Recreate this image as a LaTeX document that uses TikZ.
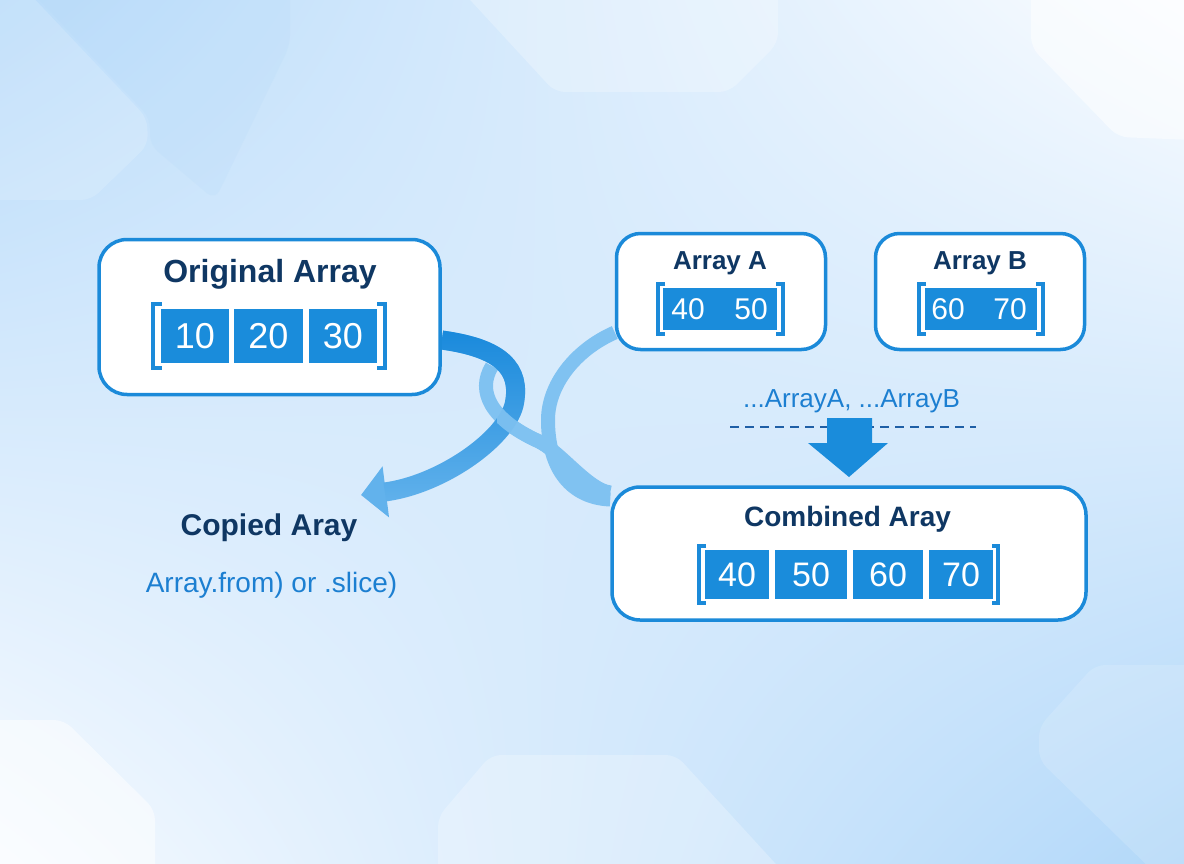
\documentclass[tikz,border=0pt]{standalone}
\usepackage{fontspec}
\setmainfont{Liberation Sans}
\usetikzlibrary{arrows.meta,fadings,shadings}
\definecolor{boxblue}{RGB}{27,138,217}
\definecolor{cellblue}{RGB}{26,140,219}
\definecolor{navy}{RGB}{15,55,99}
\definecolor{txtblue}{RGB}{28,127,209}
\definecolor{dashblue}{RGB}{31,95,166}
\definecolor{ribdark}{RGB}{26,138,220}
\definecolor{riblight}{RGB}{98,178,236}
\definecolor{ribpale}{RGB}{128,194,241}
\definecolor{bgTL}{RGB}{186,220,250}
\definecolor{bgTR}{RGB}{250,252,255}
\definecolor{bgBL}{RGB}{246,250,255}
\definecolor{bgBR}{RGB}{178,216,249}
\tikzfading[name=myfade, top color=transparent!0, middle color=transparent!50, bottom color=transparent!100]
\pgfdeclarelayer{bg}
\pgfsetlayers{bg,main}
\begin{document}
\begin{tikzpicture}[x=1pt,y=-1pt,
  panel/.style={draw=boxblue, line width=3.5pt, fill=white, rounded corners=28pt, inner sep=0pt},
  cell/.style={fill=cellblue, text=white, inner sep=0pt},
  num/.style={text=white, inner sep=0pt},
  ttl/.style={text=navy, anchor=base, inner sep=0pt},
  lbl/.style={text=txtblue, anchor=base, inner sep=0pt},
  brk/.style={draw=boxblue, line width=4pt},
  hexw/.style={fill=white, rounded corners=10pt},
  band/.style={line cap=butt}
]
\useasboundingbox (0,0) rectangle (1184,864);

% ---------- panels ----------
\node[panel, minimum width=341pt, minimum height=155pt] (orig) at (269.5,317) {};
\node[ttl, font=\fontsize{32}{38}\selectfont\bfseries] (origT) at (270,282) {Original Array};
\node[cell, minimum width=68pt, minimum height=54pt, font=\fontsize{36}{40}\selectfont] (o1) at (195,336) {10};
\node[cell, minimum width=69pt, minimum height=54pt, font=\fontsize{36}{40}\selectfont] (o2) at (268.5,336) {20};
\node[cell, minimum width=68pt, minimum height=54pt, font=\fontsize{36}{40}\selectfont] (o3) at (343,336) {30};
\draw[brk] (162,304) -- (153,304) -- (153,368) -- (162,368);
\draw[brk] (377,304) -- (385,304) -- (385,368) -- (377,368);

\node[panel, rounded corners=24pt, minimum width=209pt, minimum height=116pt] (arrA) at (721,291.5) {};
\node[ttl, font=\fontsize{26}{30}\selectfont\bfseries] (arrAT) at (720,269) {Array A};
\node[cell, minimum width=114pt, minimum height=42pt] (ca) at (720,309) {};
\node[num, font=\fontsize{30}{34}\selectfont] (a1) at (688,309) {40};
\node[num, font=\fontsize{30}{34}\selectfont] (a2) at (751,309) {50};
\draw[brk] (665,284) -- (658,284) -- (658,334) -- (665,334);
\draw[brk] (776,284) -- (783,284) -- (783,334) -- (776,334);

\node[panel, rounded corners=24pt, minimum width=209pt, minimum height=116pt] (arrB) at (980,291.5) {};
\node[ttl, font=\fontsize{26}{30}\selectfont\bfseries] (arrBT) at (980,269) {Array B};
\node[cell, minimum width=112pt, minimum height=42pt] (cb) at (981,309) {};
\node[num, font=\fontsize{30}{34}\selectfont] (b1) at (948,309) {60};
\node[num, font=\fontsize{30}{34}\selectfont] (b2) at (1010,309) {70};
\draw[brk] (926,284) -- (919,284) -- (919,334) -- (926,334);
\draw[brk] (1036,284) -- (1043,284) -- (1043,334) -- (1036,334);

\node[lbl, font=\fontsize{26}{30}\selectfont] (spread) at (851.5,407) {...ArrayA, ...ArrayB};
\coordinate (dl) at (730,427);
\coordinate (dr) at (976,427);
\draw[dashblue, line width=2pt, dash pattern=on 9pt off 6pt] (dl) -- (dr);
\fill[cellblue] (827,418) -- (872,418) -- (872,443) -- (888,443) -- (849,477) -- (808,443) -- (827,443) -- cycle;

\node[panel, minimum width=474pt, minimum height=133pt] (comb) at (849,553.5) {};
\node[ttl, font=\fontsize{28}{32}\selectfont\bfseries] (combT) at (847.5,526) {Combined Aray};
\node[cell, minimum width=64pt, minimum height=49pt, font=\fontsize{34}{38}\selectfont] (c1) at (737,574.5) {40};
\node[cell, minimum width=72pt, minimum height=49pt, font=\fontsize{34}{38}\selectfont] (c2) at (811,574.5) {50};
\node[cell, minimum width=70pt, minimum height=49pt, font=\fontsize{34}{38}\selectfont] (c3) at (888,574.5) {60};
\node[cell, minimum width=64pt, minimum height=49pt, font=\fontsize{34}{38}\selectfont] (c4) at (961,574.5) {70};
\draw[brk] (706,546) -- (699,546) -- (699,603) -- (706,603);
\draw[brk] (992,546) -- (998,546) -- (998,603) -- (992,603);

\node[ttl, font=\fontsize{30}{34}\selectfont\bfseries] (copied) at (269,535) {Copied Aray};
\node[lbl, font=\fontsize{28}{32}\selectfont] (method) at (271.5,592) {Array.from) or .slice)};

\coordinate (copyTip) at (361,495);
\coordinate (loopStart) at (492,366);

% ---------- background layer ----------
\begin{pgfonlayer}{bg}
\shade[upper left=bgTL, upper right=bgTR, lower left=bgBL, lower right=bgBR] (0,0) rectangle (1184,864);
\fill[hexw, opacity=.15] (-10,-10) -- (26,-10) -- (147,118) -- (148,145) -- (91,200) -- (-10,200) -- cycle;
\fill[bgBR, opacity=.18, rounded corners=10pt] (30,-10) -- (290,-10) -- (290,45) -- (215,200) -- (150,145) -- (150,118) -- cycle;
\fill[hexw, opacity=.25] (461,-10) -- (555,92) -- (729,92) -- (778,43) -- (778,-10) -- cycle;
\fill[hexw, opacity=.5] (1031,-10) -- (1031,47) -- (1118,137) -- (1194,140) -- (1194,-10) -- cycle;
\fill[hexw, opacity=.5] (-10,720) -- (64,720) -- (155,810) -- (155,874) -- (-10,874) -- cycle;
\fill[hexw, opacity=.25] (438,874) -- (438,817) -- (491,755) -- (676,755) -- (785,874) -- cycle;
\fill[hexw, opacity=.15] (1039,727) -- (1095,665) -- (1194,665) -- (1194,874) -- (1156,874) -- (1039,760) -- cycle;

% ribbons
\draw[ribpale, band, line width=14pt] ([yshift=-41pt]arrA.west) .. controls (575,350) and (548,385) .. (548,420) .. controls (548,470) and (572,498) .. ([yshift=54pt]comb.west);
\draw[ribpale, band, line width=14pt] (loopStart) .. controls (476,392) and (492,420) .. (538,441) .. controls (560,451) and (588,490) .. ([yshift=61pt]comb.west);
\draw[riblight, band, line width=19pt, -{Triangle[length=25pt,width=50pt]}] ([yshift=-23pt]orig.east) .. controls (500,348) and (522,368) .. (514,405) .. controls (505,440) and (440,485) .. (copyTip);
\draw[ribdark, band, line width=19pt, path fading=myfade, shorten >=24pt] ([yshift=-23pt]orig.east) .. controls (500,348) and (522,368) .. (514,405) .. controls (505,440) and (440,485) .. (copyTip);
\begin{scope}
\clip (497,409) rectangle (545,455);
\draw[ribpale, band, line width=14pt, opacity=.9] (loopStart) .. controls (476,392) and (492,420) .. (538,441) .. controls (560,451) and (588,490) .. ([yshift=61pt]comb.west);
\end{scope}
\end{pgfonlayer}
\end{tikzpicture}
\end{document}
